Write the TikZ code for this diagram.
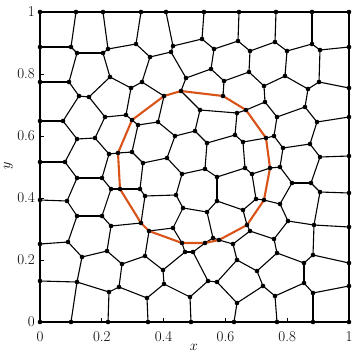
\documentclass[tikz,border=0pt]{standalone}
\definecolor{myorange}{RGB}{217,83,25}
\begin{document}
\begin{tikzpicture}[x=1pt,y=-1pt,
  mesh/.style={line width=1.1pt,black},
  iface/.style={line width=2.1pt,myorange,line join=round},
  axisline/.style={line width=1.6pt,black},
  tick/.style={line width=0.9pt,black},
  lab/.style={font=\fontsize{15}{18}\selectfont,inner sep=0pt}]
\useasboundingbox (0,0) rectangle (360,360);
\def\verts{T0/40/12,T1/76/12,T2/103/12,T3/141/12,T4/166/12,T5/204/12,T6/239/12,T7/276/12,T8/312/12,T9/349/12,
L1/40/47,L2/40/82,L3/40/121,L4/40/162,L5/40/200,L6/40/244,L7/40/281,B0/40/322,
R1/349/47,R2/349/88,R3/349/117,R4/349/156,R5/349/193,R6/349/227,R7/349/263,R8/349/286,B8/349/322,
B1/71/322,B2/108/322,B3/148/322,B4/191/322,B5/234/322,B6/277/322,B7/313/322,
a/71/47,b/77/53,c/103/53,d/108/49,e/136/44,f/150/57,ga/171/52,gb/173/46,ha/202/39,hb/214/49,hc/238/41,hd/250/51,ia/275/42,ib/287/51,ic/312/44,id/320/50,
g/69/82,h/79/96,i/89/97,j/110/77,l/131/88,k/142/82,m/126/115,n/105/117,
oa/186/78,ob/211/69,oc/224/81,od/249/72,
qa/285/76,qb/264/86,qc/308/89,qd/319/82,qe/265/102,qf/305/107,qg/277/117,
Oa/181/91,Ob/223/96,Oc/246/110,Od/266/138,Oe/270/168,Of/264/200,Og/247/225,Oh/219/240,Oi/205/243,Oj/182/243,Ok/149/231,Ol/141/223,Om/120/189,On/118/153,Oo/132/120,Op/164/96,
pa/200/110,pb/237/113,t/138/125,Pa/158/122,Pz/132/152,Pb/175/136,Pc/195/131,Pd/235/135,Pe/207/143,Pf/243/142,Pg/143/163,Ph/167/158,Pi/182/174,Pj/205/169,Pk/245/168,Pl/217/177,Pm/252/174,Pn/145/196,cc/140/189,Po/176/195,Pp/217/201,Pq/183/208,Pr/207/212,Ps/243/210,Pt/256/199,Va/173/228,Vb/213/238,
p/63/121,q/77/139,r/95/138,u/109/154,x/65/162,y/77/178,z/102/178,aa/111/189,dd/67/201,ee/77/216,ff/102/216,hh/111/226,ii/68/242,jj/82/257,kk/107/251,ll/122/264,nn/77/282,oo/109/292,pp/119/287,qq/147/298,mm/145/256,
Wa/163/270,Wb/164/284,Wc/190/297,Wd/208/281,We/217/282,Wf/237/303,Wg/237/260,Wh/257/271,Xa/185/252,Xb/193/252,Xc/233/244,Xd/250/231,
Ya/274/239,Yb/288/221,Yc/314/225,Yd/277/253,Ye/304/263,Yf/313/255,Yg/304/283,Yh/313/293,Za/263/286,Zb/275/296,
Sa/317/122,Sb/274/136,Sc/283/148,Sd/310/144,Se/320/157,Sf/280/167,Sg/292/183,Sh/311/183,Si/320/192,Sj/280/204}
\foreach \n/\x/\y in \verts { \coordinate (\n) at (\x,\y); }
% boundary (top, right)
\draw[mesh] (T0)--(T1)--(T2)--(T3)--(T4)--(T5)--(T6)--(T7)--(T8)--(T9)--(R1)--(R2)--(R3)--(R4)--(R5)--(R6)--(R7)--(R8)--(B8);
% interior edges
\foreach \a/\b in {T1/a,T2/d,T3/e,T4/gb,T5/ha,T6/hc,T7/ia,T8/ic,
L1/a,a/b,b/c,c/d,d/e,e/f,f/ga,ga/gb,gb/ha,ha/hb,hb/hc,hc/hd,hd/ia,ia/ib,ib/ic,ic/id,id/R1,
b/g,g/L2,g/h,h/i,i/j,j/c,j/l,l/k,k/f,l/m,m/n,n/i,
ga/oa,oa/ob,ob/hb,ob/oc,oc/Ob,oc/od,od/hd,od/qb,oa/Oa,k/Op,
ib/qa,qa/qb,qa/qc,qc/qd,qd/id,qd/R2,qb/qe,qe/Oc,qe/qg,qg/qf,qf/qc,qf/Sa,Sa/R3,qg/Sb,
Sb/Od,Sb/Sc,Sc/Sd,Sd/Sa,Sd/Se,Se/R4,Se/Sh,Sc/Sf,Sf/Oe,Sf/Sg,Sg/Sh,Sh/Si,Si/R5,Si/Yc,Sg/Sj,Sj/Of,Sj/Yb,
L3/p,p/h,p/q,q/r,r/n,r/u,u/On,u/z,q/x,x/L4,x/y,y/z,z/aa,aa/Om,y/dd,dd/L5,dd/ee,ee/ff,ff/aa,ff/hh,hh/Ol,ee/ii,ii/L6,ii/jj,jj/kk,kk/hh,kk/ll,ll/mm,ll/pp,jj/nn,nn/L7,nn/B1,nn/oo,oo/pp,oo/B2,pp/qq,qq/B3,qq/Wb,
m/Oo,
mm/Ok,mm/Wa,Wa/Xa,Wa/Wb,Wb/Wc,Wc/B4,Wc/Wd,Wd/Xb,Wd/We,We/Wg,We/Wf,Wf/B5,Wf/Za,Xa/Oj,Xa/Xb,Xb/Oi,Xc/Oh,Xc/Wg,Xc/Xd,Xd/Og,Xd/Ya,Wg/Wh,Wh/Za,Wh/Yd,
Ya/Yb,Ya/Yd,Yb/Yc,Yc/R6,Yc/Yf,Yd/Ye,Ye/Yf,Yf/R7,Ye/Yg,Yg/Yh,Yh/R8,Yh/B7,Yg/Zb,Zb/B6,Zb/Za,
Oo/t,t/Pa,t/Pz,Pz/On,Pz/Pg,Pa/Op,Pa/Pb,Pb/Pc,Pc/pa,pa/Oa,pa/pb,pb/Oc,pb/Pd,Pc/Pe,Pe/Pd,Pd/Pf,Pf/Od,Pe/Pj,Pb/Ph,Ph/Pg,Ph/Pi,Pi/Pj,Pj/Pl,Pl/Pk,Pk/Pf,Pk/Pm,Pm/Oe,Pm/Pt,Pt/Of,Pt/Ps,Ps/Og,Ps/Pp,Pp/Pl,Pp/Pr,Pr/Pq,Pq/Po,Po/Pi,Po/Pn,Pn/cc,cc/Pg,cc/Om,Pn/Ol,Pq/Va,Va/Ok,Va/Oj,Pr/Vb,Vb/Oi,Vb/Oh}
  { \draw[mesh] (\a)--(\b); }
% interface
\draw[iface] (Oa)--(Ob)--(Oc)--(Od)--(Oe)--(Of)--(Og)--(Oh)--(Oi)--(Oj)--(Ok)--(Ol)--(Om)--(On)--(Oo)--(Op)--cycle;
% axes
\draw[axisline] (T0)--(L1)--(L2)--(L3)--(L4)--(L5)--(L6)--(L7)--(B0)--(B1)--(B2)--(B3)--(B4)--(B5)--(B6)--(B7)--(B8);
% vertices
\foreach \n/\x/\y in \verts { \fill (\n) circle (2.3pt); }
% ticks
\foreach \k in {1,2,3,4} {
  \coordinate (xt\k) at ({40+61.8*\k},322);
  \coordinate (yt\k) at (40,{322-62*\k});
  \draw[tick] (xt\k) -- ++(0,-4);
  \draw[tick] (yt\k) -- ++(4,0);
}
% tick labels
\node[lab,anchor=north] (xl0) at (40,331.5) {0};
\node[lab,anchor=north] (xl1) at (101.8,331.5) {0.2};
\node[lab,anchor=north] (xl2) at (163.6,331.5) {0.4};
\node[lab,anchor=north] (xl3) at (225.4,331.5) {0.6};
\node[lab,anchor=north] (xl4) at (287.2,331.5) {0.8};
\node[lab,anchor=north] (xl5) at (349,331.5) {1};
\node[lab,anchor=east] (yl0) at (35,322) {0};
\node[lab,anchor=east] (yl1) at (35,260) {0.2};
\node[lab,anchor=east] (yl2) at (35,198) {0.4};
\node[lab,anchor=east] (yl3) at (35,136) {0.6};
\node[lab,anchor=east] (yl4) at (35,74) {0.8};
\node[lab,anchor=east] (yl5) at (35,12) {1};
\node[lab] (xlab) at (194,347.5) {$x$};
\node[lab,rotate=90] (ylab) at (8.5,166) {$y$};
\end{tikzpicture}
\end{document}
